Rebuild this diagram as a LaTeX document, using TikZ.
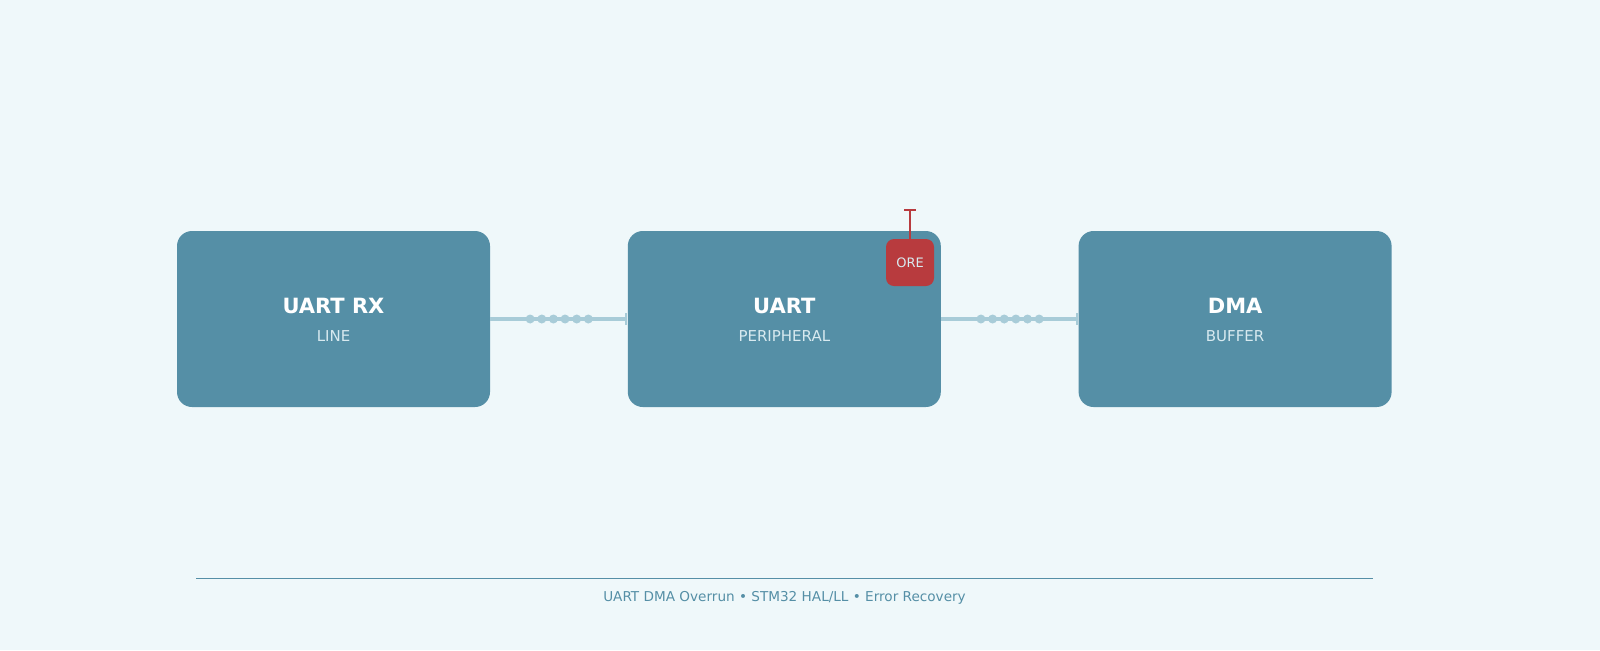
\documentclass[tikz,border=0pt]{standalone}
\usepackage{fontspec}
\setmainfont{DejaVu Sans}
\usetikzlibrary{positioning,arrows.meta}
\definecolor{bgcol}{HTML}{EFF8FA}
\definecolor{boxcol}{HTML}{558FA6}
\definecolor{subcol}{HTML}{D8EAF0}
\definecolor{linkcol}{HTML}{A8CCD8}
\definecolor{orecol}{HTML}{B83B3E}
\tikzset{
    blocksty/.style={fill=boxcol,rounded corners=7.5pt,minimum width=156.5pt,minimum height=88pt,inner sep=0pt},
    titlesty/.style={text=white,font=\bfseries\fontsize{10.5}{12}\selectfont},
    substy/.style={text=subcol,font=\fontsize{7.5}{9}\selectfont},
    linksty/.style={draw=linkcol,line width=2.4pt,-{Bar[width=6pt,line width=1.2pt]}},
    dotsty/.style={circle,fill=linkcol,inner sep=0pt,minimum size=4.5pt},
    oresty/.style={fill=orecol,rounded corners=4pt,minimum width=24pt,minimum height=23.5pt,text=subcol,font=\fontsize{6.5}{8}\selectfont,inner sep=0pt},
    stemsty/.style={draw=orecol,line width=1.1pt,-{Bar[width=6pt,line width=1.1pt]}},
}
\begin{document}
\begin{tikzpicture}[x=0.5pt,y=-0.5pt]
  \fill[bgcol] (0,0) rectangle (1600,650);
  \useasboundingbox (0,0) rectangle (1600,650);

  \node[blocksty] (rx) at (333.5,319) {};
  \node[blocksty,right=68.5pt of rx] (uart) {};
  \node[blocksty,right=68.5pt of uart] (dma) {};

  \node[titlesty] at ([yshift=6.5pt]rx.center) {UART RX};
  \node[substy] at ([yshift=-8.5pt]rx.center) {LINE};
  \node[titlesty] at ([yshift=6.5pt]uart.center) {UART};
  \node[substy] at ([yshift=-8.5pt]uart.center) {PERIPHERAL};
  \node[titlesty] at ([yshift=6.5pt]dma.center) {DMA};
  \node[substy] at ([yshift=-8.5pt]dma.center) {BUFFER};

  % links with dots
  \draw[linksty] (rx.east) -- (uart.west)
    \foreach \p in {0.29,0.375,0.46,0.545,0.63,0.715} {node[dotsty,pos=\p]{}};
  \draw[linksty] (uart.east) -- (dma.west)
    \foreach \p in {0.29,0.375,0.46,0.545,0.63,0.715} {node[dotsty,pos=\p]{}};

  % overrun flag
  \node[oresty] (ore) at (910,262.5) {ORE};
  \coordinate[above=15pt of ore.north] (oretop);
  \draw[stemsty] (ore.north) -- (oretop);

  % footer
  \coordinate (fl) at (196,578);
  \coordinate (fr) at (1373,578);
  \draw[boxcol,line width=0.5pt] (fl) -- (fr);
  \node[text=boxcol,font=\fontsize{6.8}{8}\selectfont] (foot) at (784.5,598) {UART DMA Overrun • STM32 HAL/LL • Error Recovery};
\end{tikzpicture}
\end{document}
